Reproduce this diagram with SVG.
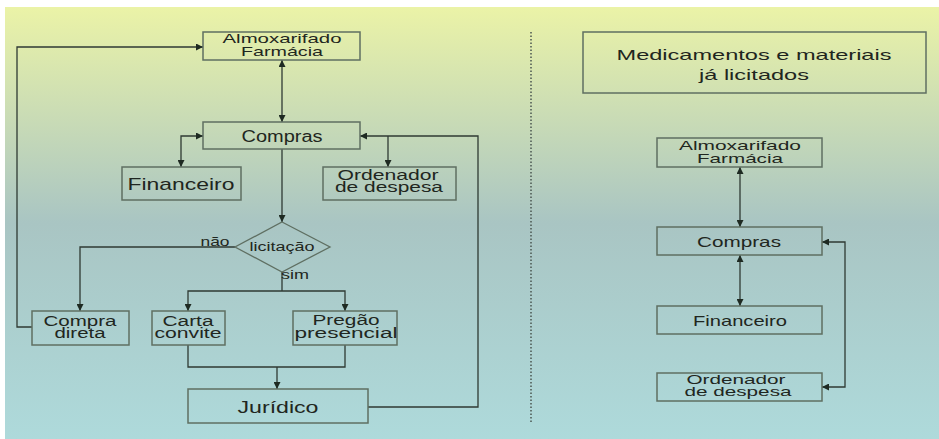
<svg xmlns="http://www.w3.org/2000/svg" width="939" height="439" viewBox="0 0 939 439">
<defs>
<linearGradient id="bg" x1="0" y1="0" x2="0" y2="1">
<stop offset="0" stop-color="#ebf3a7"/>
<stop offset="0.5" stop-color="#a9c5c3"/>
<stop offset="1" stop-color="#aedadb"/>
</linearGradient>
<marker id="ah" viewBox="0 0 10 10" refX="10" refY="5" markerWidth="7" markerHeight="7" markerUnits="userSpaceOnUse" orient="auto-start-reverse">
<path d="M0,0 L10,5 L0,10 z" fill="#1e2a22"/>
</marker>
<style>
.box{fill:none;stroke:#5f6f62;stroke-width:1.5}
.t{font-family:"Liberation Sans",Arial,sans-serif;fill:#1f2620;text-anchor:middle}
.c{fill:none;stroke:#2f3a33;stroke-width:1.3}
.ea{marker-end:url(#ah)}
.ba{marker-start:url(#ah);marker-end:url(#ah)}
</style>
</defs>
<rect x="0" y="0" width="939" height="439" fill="#ffffff"/>
<rect x="5" y="7" width="934" height="432" fill="url(#bg)"/>

<g id="connectors">
<line class="c ba" x1="282" y1="60" x2="282" y2="122"/>
<path class="c ba" d="M203,136 H181 V167"/>
<line class="c ea" x1="282" y1="149" x2="282" y2="222"/>
<path class="c ea" d="M235,247 H80 V311"/>
<path class="c" d="M282,272 V291"/>
<path class="c ea" d="M282,291 H188 V311"/>
<path class="c ea" d="M282,291 H345 V311"/>
<path class="c" d="M188,345 V367 H345 V345"/>
<line class="c ea" x1="277" y1="367" x2="277" y2="389"/>
<path class="c ea" d="M368,407 H478 V136 H360"/>
<path class="c ea" d="M388,136 V167"/>
<path class="c ea" d="M32,327 H17 V47 H203"/>
<line x1="531" y1="32" x2="531" y2="422" stroke="#4a5550" stroke-width="1.5" stroke-dasharray="1.5,2"/>
<line class="c ba" x1="740" y1="167" x2="740" y2="227"/>
<line class="c ba" x1="740" y1="255" x2="740" y2="306"/>
<path class="c ba" d="M822,242 H845 V387 H822"/>
</g>

<g id="almox-left">
<rect class="box" x="203" y="32" width="157" height="28"/>
<text class="t" x="282" y="43" font-size="13" textLength="119" lengthAdjust="spacingAndGlyphs">Almoxarifado</text>
<text class="t" x="282" y="56" font-size="13" textLength="82" lengthAdjust="spacingAndGlyphs">Farmácia</text>
</g>
<g id="compras-left">
<rect class="box" x="203" y="122" width="157" height="27"/>
<text class="t" x="282" y="142" font-size="16" textLength="81" lengthAdjust="spacingAndGlyphs">Compras</text>
</g>
<g id="financeiro-left">
<rect class="box" x="122" y="167" width="119" height="33"/>
<text class="t" x="181" y="190" font-size="17" textLength="107" lengthAdjust="spacingAndGlyphs">Financeiro</text>
</g>
<g id="ordenador-left">
<rect class="box" x="323" y="167" width="133" height="33"/>
<text class="t" x="388" y="180" font-size="14" textLength="101" lengthAdjust="spacingAndGlyphs">Ordenador</text>
<text class="t" x="389" y="192" font-size="14" textLength="108" lengthAdjust="spacingAndGlyphs">de despesa</text>
</g>
<g id="licitacao">
<polygon points="282,222 330,247 282,272 235,247" fill="none" stroke="#5f6f62" stroke-width="1.3"/>
<text class="t" x="282" y="251" font-size="12" textLength="65" lengthAdjust="spacingAndGlyphs">licitação</text>
<text class="t" x="215" y="246" font-size="12" textLength="29" lengthAdjust="spacingAndGlyphs">não</text>
<text class="t" x="295" y="279" font-size="12" textLength="28" lengthAdjust="spacingAndGlyphs">sim</text>
</g>
<g id="compra-direta">
<rect class="box" x="32" y="311" width="97" height="34"/>
<text class="t" x="80" y="326" font-size="14" textLength="73" lengthAdjust="spacingAndGlyphs">Compra</text>
<text class="t" x="80" y="338" font-size="14" textLength="51" lengthAdjust="spacingAndGlyphs">direta</text>
</g>
<g id="carta-convite">
<rect class="box" x="152" y="311" width="73" height="34"/>
<text class="t" x="188" y="326" font-size="14" textLength="51" lengthAdjust="spacingAndGlyphs">Carta</text>
<text class="t" x="188" y="338" font-size="14" textLength="67" lengthAdjust="spacingAndGlyphs">convite</text>
</g>
<g id="pregao">
<rect class="box" x="293" y="311" width="104" height="34"/>
<text class="t" x="346" y="325" font-size="14" textLength="67" lengthAdjust="spacingAndGlyphs">Pregão</text>
<text class="t" x="346" y="338" font-size="14" textLength="103" lengthAdjust="spacingAndGlyphs">presencial</text>
</g>
<g id="juridico">
<rect class="box" x="188" y="389" width="180" height="34"/>
<text class="t" x="278" y="413" font-size="16" textLength="81" lengthAdjust="spacingAndGlyphs">Jurídico</text>
</g>

<g id="medicamentos">
<rect class="box" x="583" y="32" width="343" height="61"/>
<text class="t" x="754" y="60" font-size="15" textLength="275" lengthAdjust="spacingAndGlyphs">Medicamentos e materiais</text>
<text class="t" x="754" y="80" font-size="15" textLength="110" lengthAdjust="spacingAndGlyphs">já licitados</text>
</g>
<g id="almox-right">
<rect class="box" x="657" y="138" width="165" height="29"/>
<text class="t" x="740" y="150" font-size="13" textLength="122" lengthAdjust="spacingAndGlyphs">Almoxarifado</text>
<text class="t" x="740" y="163" font-size="13" textLength="86" lengthAdjust="spacingAndGlyphs">Farmácia</text>
</g>
<g id="compras-right">
<rect class="box" x="657" y="227" width="165" height="28"/>
<text class="t" x="739" y="247" font-size="15" textLength="84" lengthAdjust="spacingAndGlyphs">Compras</text>
</g>
<g id="financeiro-right">
<rect class="box" x="657" y="306" width="165" height="28"/>
<text class="t" x="740" y="326" font-size="15" textLength="94" lengthAdjust="spacingAndGlyphs">Financeiro</text>
</g>
<g id="ordenador-right">
<rect class="box" x="657" y="373" width="165" height="28"/>
<text class="t" x="736" y="384" font-size="13" textLength="99" lengthAdjust="spacingAndGlyphs">Ordenador</text>
<text class="t" x="738" y="396" font-size="13" textLength="107" lengthAdjust="spacingAndGlyphs">de despesa</text>
</g>
</svg>
